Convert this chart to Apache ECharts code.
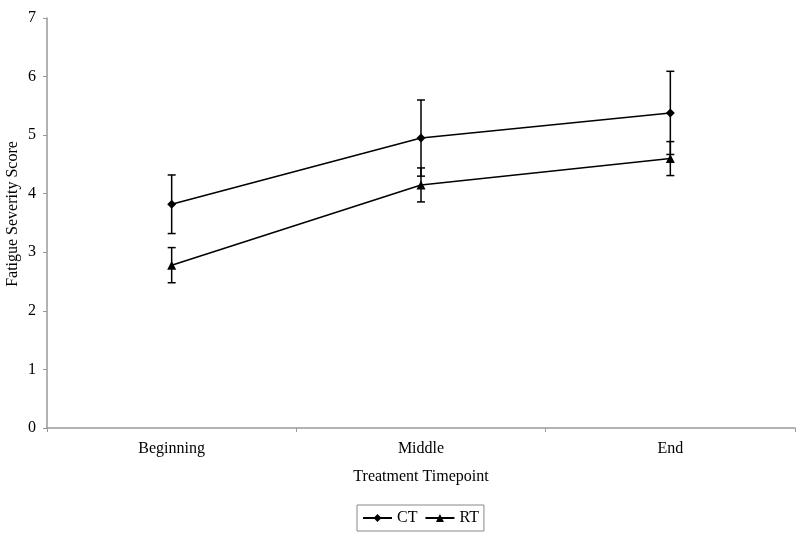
<!DOCTYPE html>
<html>
<head>
<meta charset="utf-8">
<script src="https://cdn.jsdelivr.net/npm/echarts@6/dist/echarts.min.js"></script>
<style>html,body{margin:0;padding:0;background:#fff}#c{width:800px;height:539px}</style>
</head>
<body>
<div id="c"></div>
<script>
var categories = ['Beginning', 'Middle', 'End'];
var ctMean = [3.82, 4.95, 5.38];
var ctErr = [0.5, 0.65, 0.71];
var rtMean = [2.78, 4.15, 4.6];
var rtErr = [0.3, 0.29, 0.29];
var yTicks = [0, 1, 2, 3, 4, 5, 6, 7];

function errData(mean, err) {
  return mean.map(function (m, i) { return [i, m - err[i], m + err[i]]; });
}
function renderErr(params, api) {
  var x = api.value(0);
  var lo = api.coord([x, api.value(1)]);
  var hi = api.coord([x, api.value(2)]);
  var w = 4;
  var st = { stroke: '#000', lineWidth: 1.5 };
  return {
    type: 'group',
    children: [
      { type: 'line', shape: { x1: lo[0], y1: lo[1], x2: hi[0], y2: hi[1] }, style: st },
      { type: 'line', shape: { x1: hi[0] - w, y1: hi[1], x2: hi[0] + w, y2: hi[1] }, style: st },
      { type: 'line', shape: { x1: lo[0] - w, y1: lo[1], x2: lo[0] + w, y2: lo[1] }, style: st }
    ]
  };
}
var font = 'Liberation Serif';
var chart = echarts.init(document.getElementById('c'));
chart.setOption({
  animation: false,
  textStyle: { fontFamily: font },
  grid: { left: 47, right: 5, top: 18, bottom: 111 },
  legend: {
    data: ['CT', 'RT'],
    top: 505,
    left: 357,
    itemWidth: 29,
    itemHeight: 10,
    itemGap: 7,
    borderColor: '#888',
    borderWidth: 1,
    padding: [5, 5],
    textStyle: { fontFamily: font, fontSize: 16, color: '#000' }
  },
  xAxis: {
    type: 'category',
    data: categories,
    boundaryGap: true,
    name: 'Treatment Timepoint',
    nameLocation: 'middle',
    nameGap: 41,
    nameTextStyle: { fontFamily: font, fontSize: 16, color: '#000' },
    axisLine: { lineStyle: { color: '#999', width: 1.5 } },
    axisTick: { show: true, length: 4, lineStyle: { color: '#999' } },
    axisLabel: { fontFamily: font, fontSize: 16, color: '#000', margin: 13 }
  },
  yAxis: {
    type: 'value',
    min: yTicks[0],
    max: yTicks[yTicks.length - 1],
    interval: 1,
    axisLine: { show: true, lineStyle: { color: '#999', width: 1.5 } },
    axisTick: { show: true, length: 4, lineStyle: { color: '#999' } },
    splitLine: { show: false },
    axisLabel: { fontFamily: font, fontSize: 16, color: '#000', margin: 11 }
  },
  graphic: [{
    type: 'text',
    x: 13, y: 214,
    rotation: Math.PI / 2,
    style: { text: 'Fatigue Severity Score', font: '16px "Liberation Serif"', fill: '#000', align: 'center', verticalAlign: 'middle' }
  }],
  series: [
    {
      name: 'CT', type: 'line', data: ctMean,
      symbol: 'diamond', symbolSize: 9,
      lineStyle: { color: '#000', width: 1.5 },
      itemStyle: { color: '#000' }, z: 3
    },
    {
      name: 'RT', type: 'line', data: rtMean,
      symbol: 'triangle', symbolSize: 9,
      lineStyle: { color: '#000', width: 1.5 },
      itemStyle: { color: '#000' }, z: 3
    },
    { type: 'custom', name: 'ctErr', data: errData(ctMean, ctErr), renderItem: renderErr, z: 2, silent: true },
    { type: 'custom', name: 'rtErr', data: errData(rtMean, rtErr), renderItem: renderErr, z: 2, silent: true }
  ]
});
</script>
</body>
</html>
